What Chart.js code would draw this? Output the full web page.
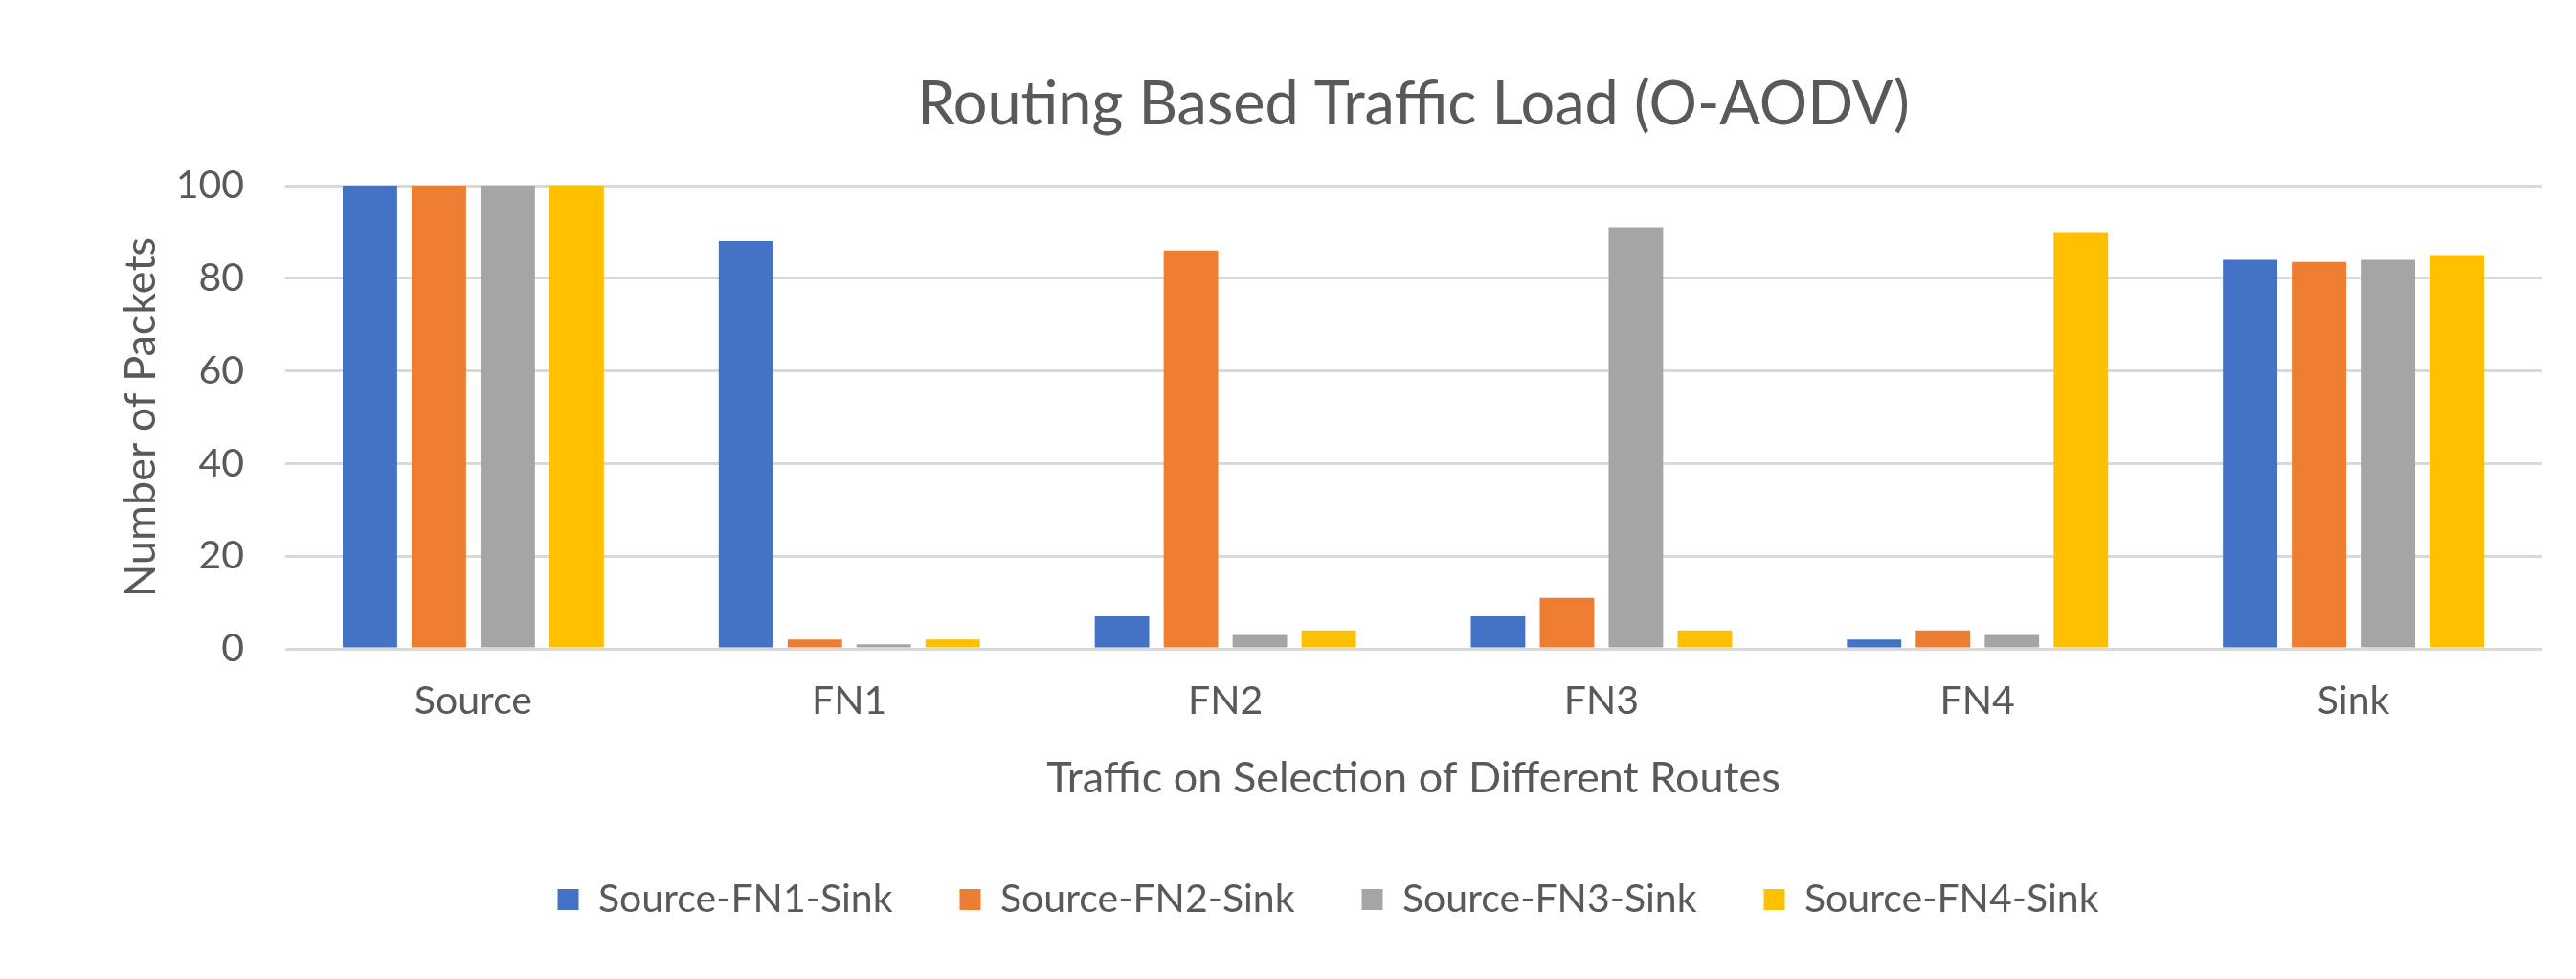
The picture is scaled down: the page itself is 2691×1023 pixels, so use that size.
<!DOCTYPE html>
<html>
<head>
<meta charset="utf-8">
<script src="https://cdn.jsdelivr.net/npm/chart.js@4.4.1/dist/chart.umd.min.js"></script>
<style>
  html, body { margin: 0; padding: 0; background: #ffffff; }
  #wrap { width: 2691px; height: 1023px; }
</style>
</head>
<body>
<div id="wrap"><canvas id="c" width="2691" height="1023"></canvas></div>
<script>
const categories = ['Source', 'FN1', 'FN2', 'FN3', 'FN4', 'Sink'];
const seriesNames = ['Source-FN1-Sink', 'Source-FN2-Sink', 'Source-FN3-Sink', 'Source-FN4-Sink'];
const fn1Sink = [100, 88, 7, 7, 2, 84];
const fn2Sink = [100, 2, 86, 11, 4, 83.5];
const fn3Sink = [100, 1, 3, 91, 3, 84];
const fn4Sink = [100, 2, 4, 4, 90, 85];
const yTicks = [0, 20, 40, 60, 80, 100];
const chartTitle = 'Routing Based Traffic Load (O-AODV)';
const xTitle = 'Traffic on Selection of Different Routes';
const yTitle = 'Number of Packets';

const colors = ['#4472C4', '#ED7D31', '#A5A5A5', '#FFC000'];
const textColor = '#595959';
const FONT = 'Lato';

const seriesValues = [fn1Sink, fn2Sink, fn3Sink, fn4Sink];

new Chart(document.getElementById('c'), {
  type: 'bar',
  data: {
    labels: categories,
    datasets: seriesNames.map((name, i) => ({
      label: name,
      data: seriesValues[i],
      backgroundColor: colors[i],
      borderWidth: 0,
      categoryPercentage: 0.733,
      barPercentage: 0.79
    }))
  },
  options: {
    responsive: false,
    animation: false,
    devicePixelRatio: 1,
    layout: { padding: { left: 120, right: 36, top: 0, bottom: 52.5 } },
    plugins: {
      title: {
        display: true,
        fullSize: false,
        text: chartTitle,
        color: textColor,
        font: { family: FONT, size: 63, weight: 'normal' },
        padding: { top: 72, bottom: 46.4 }
      },
      legend: {
        position: 'bottom',
        labels: {
          color: textColor,
          font: { family: FONT, size: 41 },
          boxWidth: 22,
          boxHeight: 22,
          padding: 70
        }
      },
      tooltip: { enabled: false }
    },
    scales: {
      x: {
        grid: { display: false, drawTicks: false },
        border: { display: false },
        ticks: {
          color: textColor,
          font: { family: FONT, size: 41 },
          padding: 30,
          maxRotation: 0
        },
        title: {
          display: true,
          text: xTitle,
          color: textColor,
          font: { family: FONT, size: 45 },
          padding: { top: 0, bottom: 9.5 }
        },
        afterFit: (scale) => { scale.height = 171.5; }
      },
      y: {
        min: 0,
        max: 100,
        afterBuildTicks: (scale) => { scale.ticks = yTicks.map(v => ({ value: v })); },
        grid: { color: '#D9D9D9', lineWidth: 3, drawTicks: false },
        border: { display: false },
        ticks: {
          color: textColor,
          font: { family: FONT, size: 41 },
          padding: 43
        },
        title: {
          display: true,
          text: yTitle,
          color: textColor,
          font: { family: FONT, size: 45 },
          padding: { top: 0, bottom: 0 }
        },
        afterFit: (scale) => { scale.width = 178; }
      }
    }
  }
});
</script>
</body>
</html>
